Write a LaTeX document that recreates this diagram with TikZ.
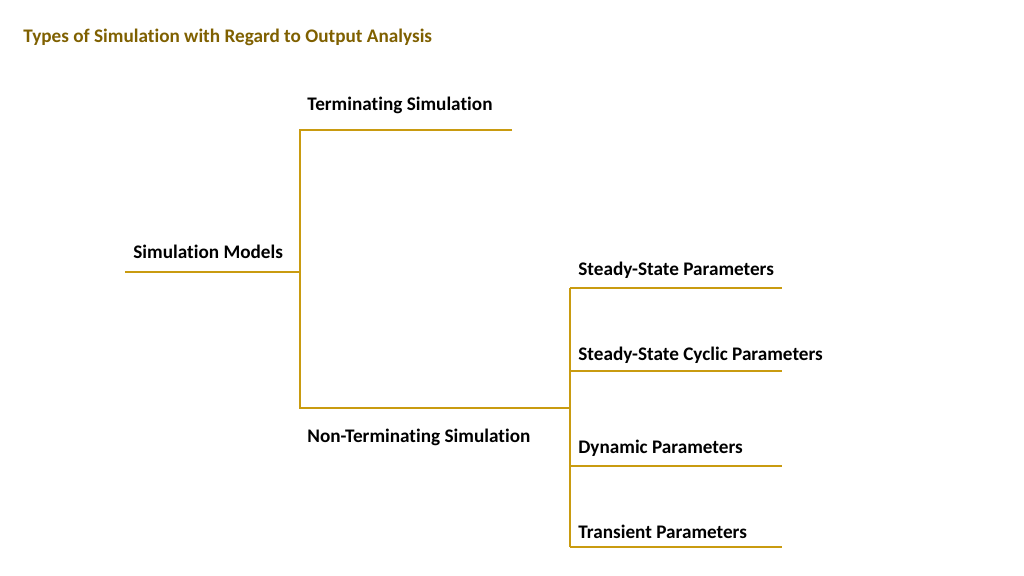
\documentclass[tikz,border=0pt]{standalone}
\usepackage{fontspec}
\setmainfont{Carlito}[Ligatures=NoCommon]
\usetikzlibrary{positioning, calc}
\definecolor{branchgold}{RGB}{201,155,16}
\definecolor{titlegold}{RGB}{127,96,0}
\tikzset{
    branch/.style={branchgold, line width=1.3pt},
    leaf/.style={font=\bfseries\fontsize{9.6}{11}\selectfont, inner sep=0pt, anchor=base west},
    heading/.style={leaf, titlegold},
}

\begin{document}
\begin{tikzpicture}[x=0.5pt, y=-0.5pt]
    \useasboundingbox (0,0) rectangle (1024,576);
    \node[heading] (title) at (23,43) {Types of Simulation with Regard to Output Analysis};
    % first level
    \coordinate (root) at (125,272);
    \coordinate (fork) at (300,272);
    \coordinate (termL) at (300,130);
    \coordinate (termR) at (512,130);
    \coordinate (nonL) at (300,408);
    \coordinate (nonR) at (570,408);
    \draw[branch] (root) -- (fork);
    \draw[branch] (termR) -- (termL) -- (nonL) -- (nonR);
    \node[leaf] (models) at (133,259) {Simulation Models};
    \node[leaf] (term) at (307,111) {Terminating Simulation};
    \node[leaf] (nonterm) at (307,443) {Non-Terminating Simulation};
    % second level
    \coordinate (subTop) at (570,288);
    \coordinate (subBot) at (570,547);
    \draw[branch] (subTop) -- (subBot);
    \foreach \y/\b/\name/\txt in {288/276/ss/Steady-State Parameters, 371/361/ssc/Steady-State Cyclic Parameters,
                                  466/454/dyn/Dynamic Parameters, 547/539/tr/Transient Parameters} {
        \coordinate (\name L) at (570,\y);
        \coordinate (\name R) at (782,\y);
        \draw[branch] (\name L) -- (\name R);
        \node[leaf] (\name) at (578,\b) {\txt};
    };
\end{tikzpicture}
\end{document}
